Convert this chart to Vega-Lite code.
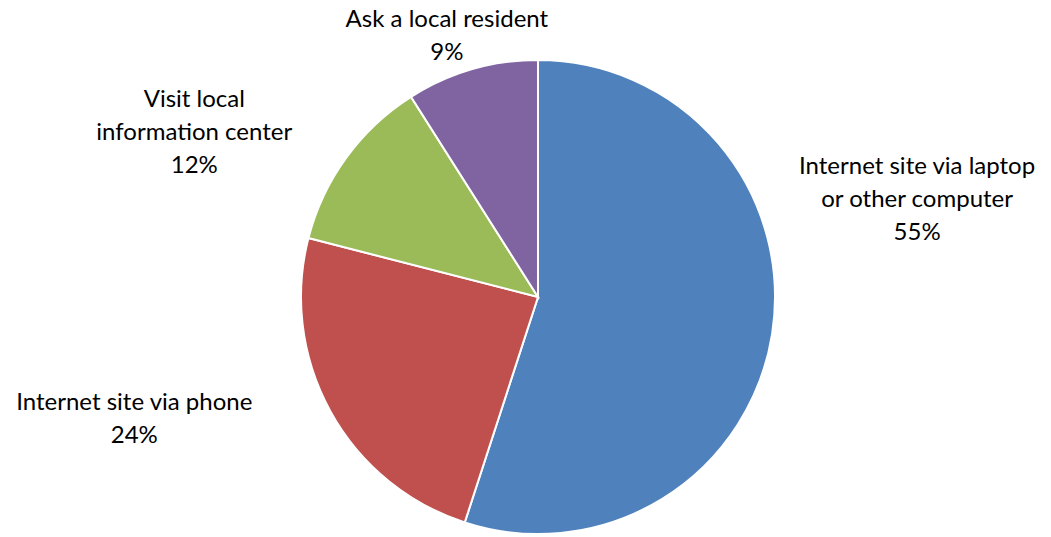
{
  "$schema": "https://vega.github.io/schema/vega-lite/v6.json",
  "width": 1026,
  "height": 480,
  "autosize": "none",
  "padding": {"left": 25, "top": 57, "right": 0, "bottom": 0},
  "background": "white",
  "config": {"view": {"stroke": null}, "text": {"font": "Lato", "fontSize": 24, "color": "#000000"}},
  "data": {
    "values": [
      {"category": "Internet site via laptop or other computer", "label": "Internet site via laptop\nor other computer\n55%", "share": 55, "rank": 1},
      {"category": "Internet site via phone", "label": "Internet site via phone\n24%", "share": 24, "rank": 2},
      {"category": "Visit local information center", "label": "Visit local\ninformation center\n12%", "share": 12, "rank": 3},
      {"category": "Ask a local resident", "label": "Ask a local resident\n9%", "share": 9, "rank": 4}
    ]
  },
  "encoding": {
    "theta": {"field": "share", "type": "quantitative", "stack": true},
    "order": {"field": "rank", "type": "quantitative", "sort": "ascending"}
  },
  "layer": [
    {
      "mark": {"type": "arc", "radius": 237, "stroke": "white", "strokeWidth": 2},
      "encoding": {
        "color": {
          "field": "category",
          "type": "nominal",
          "scale": {
            "domain": ["Internet site via laptop or other computer", "Internet site via phone", "Visit local information center", "Ask a local resident"],
            "range": ["#4F81BD", "#C0504D", "#9BBB59", "#8064A2"]
          },
          "legend": null
        }
      }
    },
    {
      "mark": {"type": "text", "radius": 237, "dx": 145, "dy": -167, "lineBreak": "\n", "baseline": "middle", "align": "center", "lineHeight": 33},
      "encoding": {"text": {"condition": {"test": "datum.rank == 1", "field": "label"}, "value": ""}}
    },
    {
      "mark": {"type": "text", "radius": 237, "dx": -196, "dy": -8, "lineBreak": "\n", "baseline": "middle", "align": "center", "lineHeight": 33},
      "encoding": {"text": {"condition": {"test": "datum.rank == 2", "field": "label"}, "value": ""}}
    },
    {
      "mark": {"type": "text", "radius": 237, "dx": -152, "dy": -58, "lineBreak": "\n", "baseline": "middle", "align": "center", "lineHeight": 33},
      "encoding": {"text": {"condition": {"test": "datum.rank == 3", "field": "label"}, "value": ""}}
    },
    {
      "mark": {"type": "text", "radius": 237, "dx": -25, "dy": -49, "lineBreak": "\n", "baseline": "middle", "align": "center", "lineHeight": 33},
      "encoding": {"text": {"condition": {"test": "datum.rank == 4", "field": "label"}, "value": ""}}
    }
  ]
}
